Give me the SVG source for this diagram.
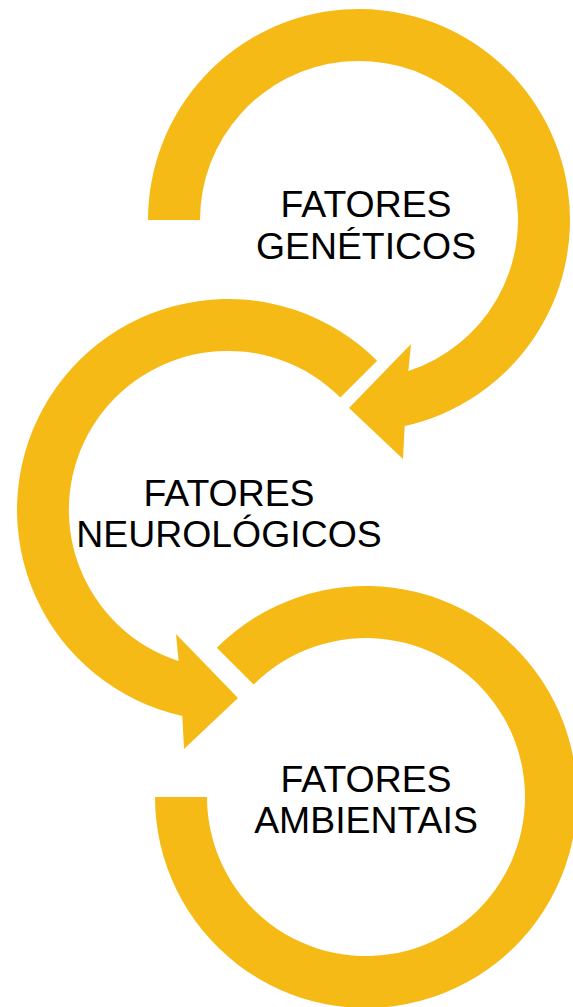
<svg xmlns="http://www.w3.org/2000/svg" width="573" height="1007" viewBox="0 0 573 1007">
<style>
.ring{fill:#F6BA17;stroke:none}
.lbl{font-family:"Liberation Sans",Arial,sans-serif;font-size:37.4px;fill:#000;text-anchor:middle}
</style>
<rect width="573" height="1007" fill="#fff"/>
<g id="connectors">
<path id="arrow1" class="ring" d="M148 220 A211 211 0 1 1 404.7 426 L403 459 L349 408 L411 344 L408.4 371.1 A159 159 0 1 0 200 220 Z"/>
<path id="arrow2" class="ring" d="M377.2 360.8 A211 211 0 1 0 182.3 716 L184 749 L238 698 L176 634 L178.6 661.1 A159 159 0 1 1 340.4 397.6 Z"/>
<path id="arrow3" class="ring" d="M216.8 647.8 A211 211 0 1 1 155 797 L207 797 A159 159 0 1 0 253.6 684.6 Z"/>
</g>
<g id="node1">
<text class="lbl" x="366" y="217">FATORES</text>
<text class="lbl" x="366" y="259">GENÉTICOS</text>
</g>
<g id="node2">
<text class="lbl" x="229" y="506">FATORES</text>
<text class="lbl" x="229" y="547">NEUROLÓGICOS</text>
</g>
<g id="node3">
<text class="lbl" x="366" y="792">FATORES</text>
<text class="lbl" x="366" y="833">AMBIENTAIS</text>
</g>
</svg>
